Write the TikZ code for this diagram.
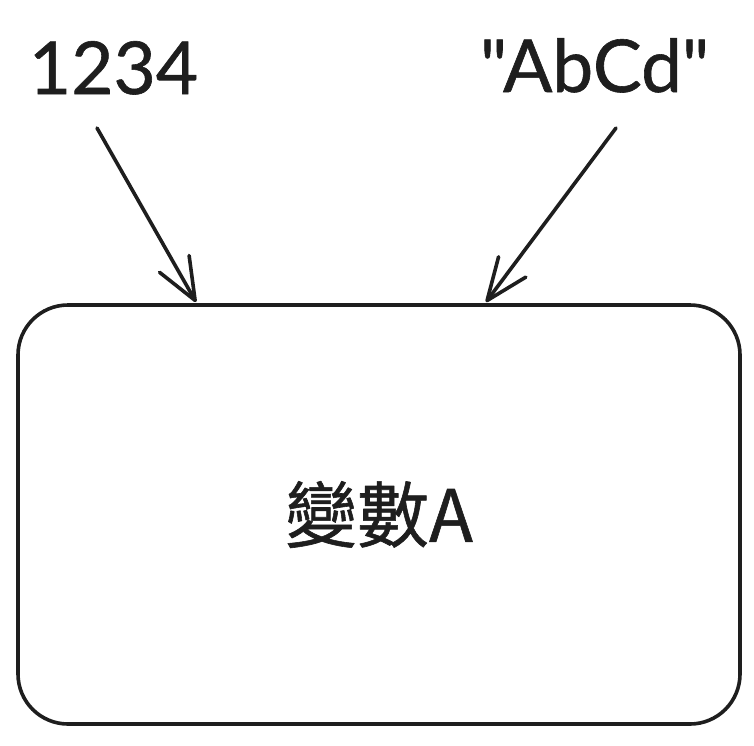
\documentclass[tikz,border=0pt]{standalone}
\usepackage{fontspec}
\setmainfont{Lato}[FakeBold=0.8, Ligatures=TeXOff]
\newfontfamily\cjk{Noto Sans CJK TC}[FakeBold=0.8]
\usetikzlibrary{arrows.meta}
\definecolor{ink}{HTML}{1E1E1E}
\tikzset{
  stroke/.style={draw=ink, line width=3.6pt, line cap=round, line join=round},
  label/.style={text=ink, font=\fontsize{73}{73}\selectfont, inner sep=0pt, anchor=base},
  arrowline/.style={stroke, -{Straight Barb[length=42pt,width=34pt,line cap=round,line join=round]}},
}
\begin{document}
\begin{tikzpicture}[x=1pt,y=-1pt]
\useasboundingbox (0,0) rectangle (754,745);
\node[stroke, rounded corners=50pt, minimum width=722pt, minimum height=419pt, inner sep=0pt,
      text=ink, font=\cjk\fontsize{72}{72}\selectfont] (var) at (379,514.5) {變數A};
\node[label] (n1) at (113.5,94) {1234};
\node[label] (n2) at (594.5,92) {"AbCd"};
\coordinate (s1) at (97,128);
\coordinate (e1) at (196,302);
\coordinate (s2) at (616,128);
\coordinate (e2) at (486,302);
\draw[arrowline] (s1) -- (e1);
\draw[arrowline] (s2) -- (e2);
\end{tikzpicture}
\end{document}
